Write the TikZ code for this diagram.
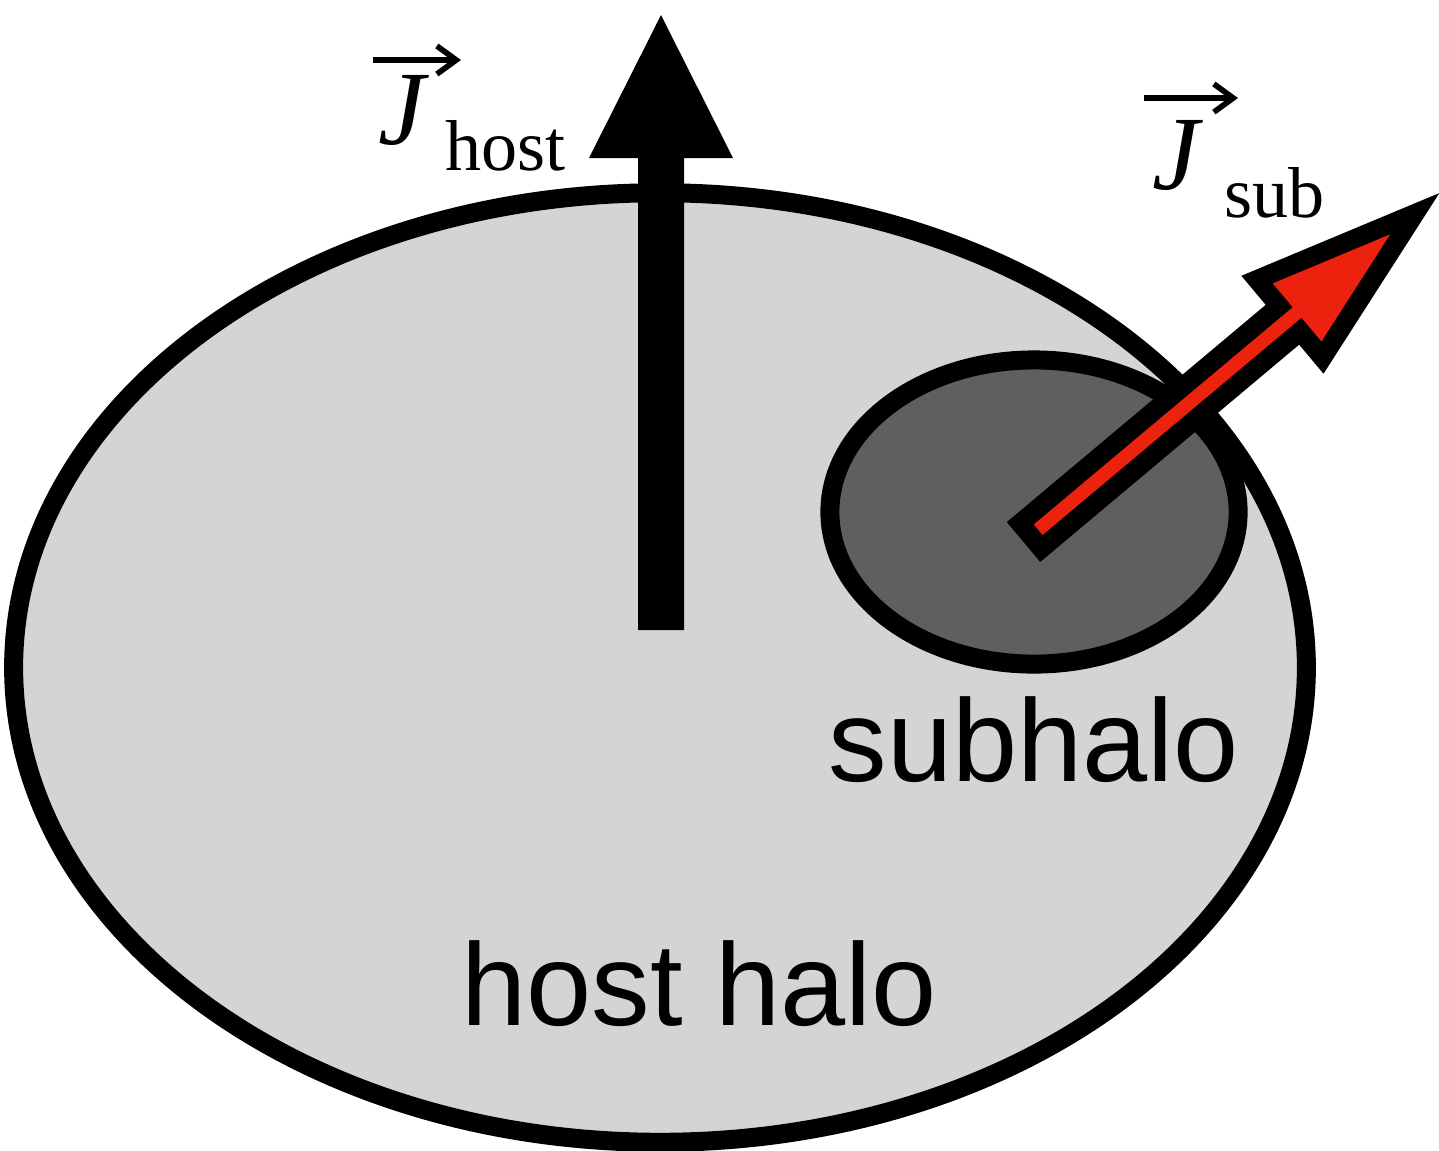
\documentclass[tikz,border=0pt]{standalone}
\usepackage{fontspec}
\newfontfamily\lsans{Liberation Sans}
\newfontfamily\lserif{Liberation Serif}
\usetikzlibrary{shapes.geometric,arrows.meta}
\definecolor{hostgray}{RGB}{212,212,212}
\definecolor{subgray}{RGB}{95,95,95}
\definecolor{spinred}{RGB}{236,34,14}
\tikzset{
  halo/.style={ellipse, draw=black, line width=5.4pt, inner sep=0pt, outer sep=0pt},
  bigtext/.style={inner sep=0pt, anchor=base, font=\lsans\fontsize{33.3}{36}\selectfont},
  jlabel/.style={inner sep=0pt, anchor=base west, font=\lserif\itshape\fontsize{30}{32}\selectfont},
  sublabel/.style={inner sep=0pt, anchor=base west, font=\lserif\fontsize{20.5}{22}\selectfont},
  vecarrow/.style={line width=1.5pt, -{Straight Barb[length=5.5pt, width=8pt, line width=1.6pt]}},
  spinarrow/.style={fill=spinred, draw=black, line width=5.4pt, line join=miter}
}
\begin{document}
\begin{tikzpicture}[x=0.01cm, y=-0.01cm]
\useasboundingbox (0,0) rectangle (1439,1150);
% host halo
\node[halo, fill=hostgray, minimum width=12.92cm, minimum height=9.49cm] (host) at (660,667.5) {};
% host spin arrow
\fill[black] (638,630) coordinate (hbase) -- (638,158) -- (589,158) -- (661,15) coordinate (htip) -- (733,158) -- (684,158) -- (684,630) -- cycle;
% subhalo
\node[halo, fill=subgray, minimum width=4.08cm, minimum height=3.04cm] (sub) at (1034,512) {};
% subhalo spin arrow
\begin{scope}[shift={(1023.5,542)}, rotate=40]
\draw[spinarrow] (9.5,-16.5) -- (347.5,-16.5) -- (347.5,-51) -- (511,0) -- (347.5,51) -- (347.5,16.5) -- (9.5,16.5) -- cycle;
\end{scope}
% labels
\node[bigtext] (subtxt) at (1034,781) {subhalo};
\node[bigtext] (hosttxt) at (699,1025) {host halo};
\node[jlabel] (Jh) at (378,144) {J};
\node[sublabel] (Jhs) at (445,170) {host};
\coordinate (vh1) at (373,60);
\coordinate (vh2) at (461,60);
\draw[vecarrow] (vh1) -- (vh2);
\node[jlabel] (Js) at (1152,189) {J};
\node[sublabel] (Jss) at (1224,217) {sub};
\coordinate (vs1) at (1144,98);
\coordinate (vs2) at (1238,98);
\draw[vecarrow] (vs1) -- (vs2);
\end{tikzpicture}
\end{document}
